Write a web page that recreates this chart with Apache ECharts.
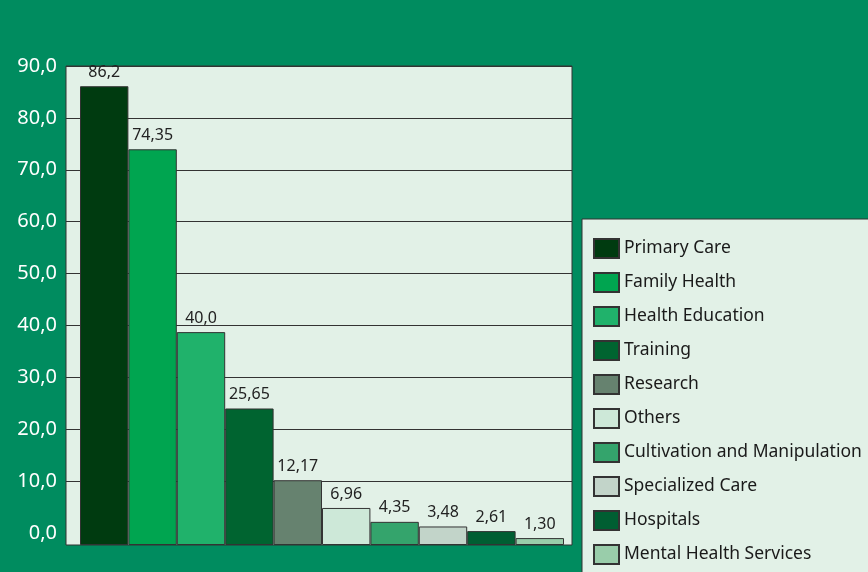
<!DOCTYPE html>
<html>
<head>
<meta charset="utf-8">
<script src="https://cdn.jsdelivr.net/npm/echarts@6/dist/echarts.min.js"></script>
<style>
html,body{margin:0;padding:0;background:#008C5F;}
#chart{width:868px;height:572px;}
</style>
</head>
<body>
<div id="chart"></div>
<script>
const categories = ["Primary Care","Family Health","Health Education","Training","Research","Others","Cultivation and Manipulation","Specialized Care","Hospitals","Mental Health Services"];
const values = [86.2, 74.35, 40.0, 25.65, 12.17, 6.96, 4.35, 3.48, 2.61, 1.30];
const valueLabels = ["86,2","74,35","40,0","25,65","12,17","6,96","4,35","3,48","2,61","1,30"];
const colors = ["#003B10","#00A550","#20B26B","#006430","#66826F","#CDE8D8","#34A46C","#C2D4C9","#005E32","#99CDAA"];
const yMin = 0, yMax = 90, yStep = 10;

const FONT = "Noto Sans";
const series = categories.map((name, i) => ({
  name: name,
  type: 'bar',
  xAxisIndex: 2,
  yAxisIndex: 2,
  stack: 'all',
  barCategoryGap: '0%',
  itemStyle: { color: colors[i], borderColor: '#333', borderWidth: 1 },
  label: {
    show: true, position: 'top', distance: 6,
    color: '#222', fontFamily: FONT, fontSize: 16,
    formatter: () => valueLabels[i]
  },
  data: categories.map((c, j) => j === i ? values[i] : '-')
}));

const chart = echarts.init(document.getElementById('chart'));
chart.setOption({
  backgroundColor: '#008C5F',
  animation: false,
  textStyle: { fontFamily: FONT },
  graphic: [{
    type: 'rect', z: -1, silent: true,
    shape: { x: 582, y: 219, width: 320, height: 400 },
    style: { fill: '#E2F1E7', stroke: '#333', lineWidth: 1 }
  }],
  grid: [
    { left: 66, top: 66, width: 506, height: 479, show: true, backgroundColor: '#E2F1E7', borderColor: '#333', borderWidth: 1 },
    { left: 66, top: 66, width: 506, height: 467 },
    { left: 80, top: 66, width: 484, height: 479 }
  ],
  xAxis: [
    { gridIndex: 0, type: 'category', data: [''], show: false },
    { gridIndex: 1, type: 'category', data: [''], show: false },
    { gridIndex: 2, type: 'category', data: categories, show: false }
  ],
  yAxis: [
    { gridIndex: 0, type: 'value', min: yMin, max: yMax, show: false },
    { gridIndex: 1, type: 'value', min: yMin, max: yMax, interval: yStep,
      axisLine: { show: false }, axisTick: { show: false },
      axisLabel: { color: '#fff', fontSize: 20, fontFamily: FONT, margin: 9,
        padding: [4, 0, 0, 0],
        formatter: v => v.toFixed(1).replace('.', ',') },
      splitLine: { show: true, showMinLine: false, lineStyle: { color: '#333', width: 1 } }
    },
    { gridIndex: 2, type: 'value', min: yMin, max: yMax, show: false }
  ],
  legend: {
    orient: 'vertical',
    left: 593, top: 238,
    itemWidth: 25, itemHeight: 19, itemGap: 13,
    padding: 0,
    icon: 'rect',
    textStyle: { color: '#1a1a1a', fontSize: 17.5, fontFamily: FONT },
    data: categories
  },
  series: series
});
</script>
</body>
</html>
